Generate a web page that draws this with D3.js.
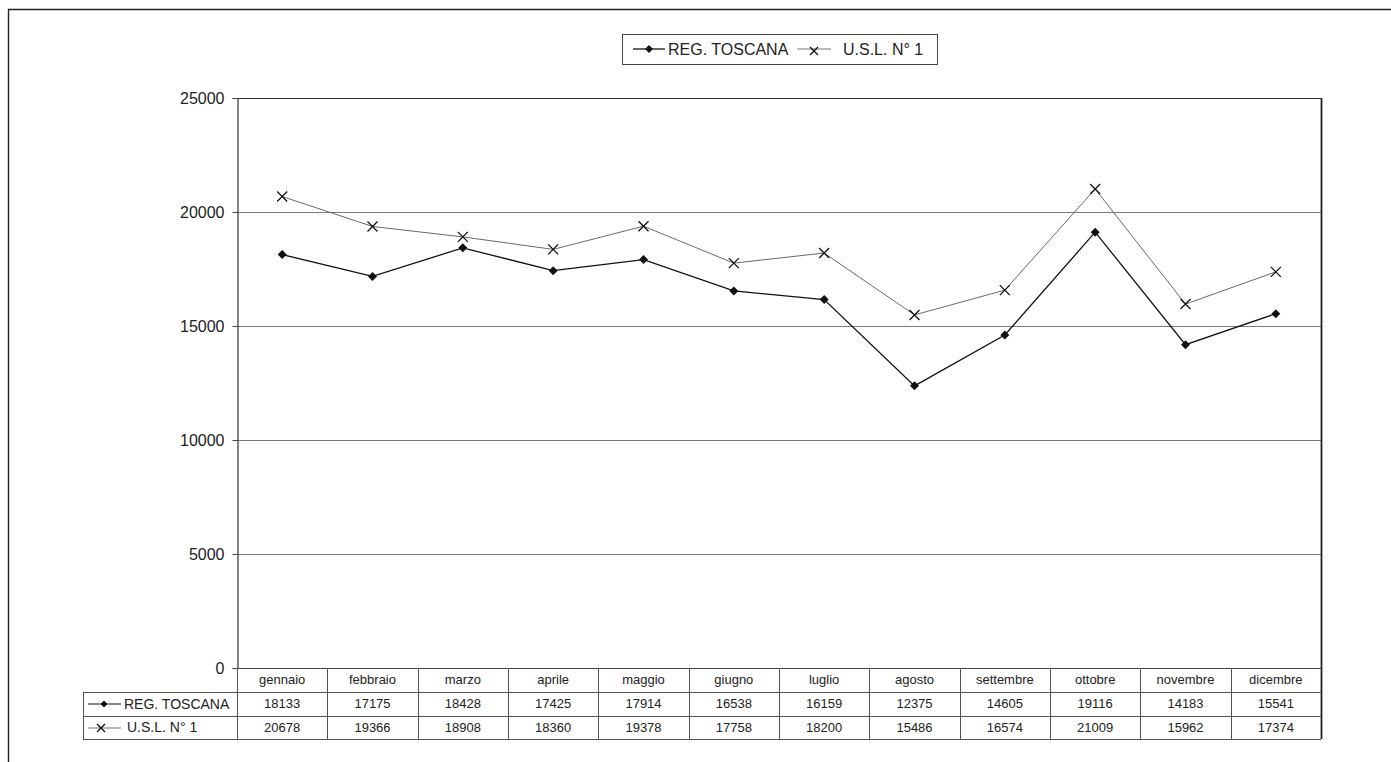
<!DOCTYPE html>
<html>
<head>
<meta charset="utf-8">
<script src="https://cdn.jsdelivr.net/npm/d3@7/dist/d3.min.js"></script>
<style>
  html, body { margin: 0; padding: 0; background: #fff; }
  svg { display: block; font-family: "Liberation Sans", Arial, sans-serif; }
</style>
</head>
<body>
<svg id="chart" width="1391" height="762"></svg>
<script>
// Monthly values for the region and the local health unit
const months = ["gennaio", "febbraio", "marzo", "aprile", "maggio", "giugno",
                "luglio", "agosto", "settembre", "ottobre", "novembre", "dicembre"];
const regToscana = [18133, 17175, 18428, 17425, 17914, 16538, 16159, 12375, 14605, 19116, 14183, 15541];
const uslN1 = [20678, 19366, 18908, 18360, 19378, 17758, 18200, 15486, 16574, 21009, 15962, 17374];
const yTicks = [0, 5000, 10000, 15000, 20000, 25000];
const seriesNames = ["REG. TOSCANA", "U.S.L. N\u00b0 1"];

(function () {
const svg = d3.select("#chart");

// plot frame
const plotLeft = 237, plotRight = 1321, plotTop = 98, plotZero = 668;
const x = d3.scaleBand().domain(months).range([plotLeft, plotRight]);
const y = d3.scaleLinear().domain([0, 25000]).range([plotZero, plotTop]);

// outer page frame
svg.append("line").attr("x1", 8).attr("x2", 1391).attr("y1", 9.5).attr("y2", 9.5)
  .attr("stroke", "#222").attr("stroke-width", 1.6);
svg.append("line").attr("x1", 8.5).attr("x2", 8.5).attr("y1", 9).attr("y2", 762)
  .attr("stroke", "#222").attr("stroke-width", 1.4);

// gridlines
svg.append("g").selectAll("line").data(yTicks.filter(d => d > 0 && d < 25000)).join("line")
  .attr("x1", plotLeft).attr("x2", plotRight)
  .attr("y1", d => Math.round(y(d)) + 0.5).attr("y2", d => Math.round(y(d)) + 0.5)
  .attr("stroke", "#7a7a7a").attr("stroke-width", 1);

// plot border: top and right
svg.append("line").attr("x1", plotLeft).attr("x2", plotRight).attr("y1", y(25000) + 0.5).attr("y2", y(25000) + 0.5)
  .attr("stroke", "#333").attr("stroke-width", 1.2);
svg.append("line").attr("x1", plotRight + 0.5).attr("x2", plotRight + 0.5).attr("y1", plotTop).attr("y2", 739)
  .attr("stroke", "#222").attr("stroke-width", 1.8);

// y axis
const yAxis = d3.axisLeft(y).tickValues(yTicks).tickSize(5).tickPadding(8).tickFormat(d3.format("d"));
const ya = svg.append("g").attr("transform", `translate(${plotLeft + 0.5},0)`).call(yAxis);
ya.select(".domain").attr("stroke", "#333").attr("stroke-width", 1.2);
ya.selectAll(".tick line").attr("stroke", "#444");
ya.selectAll(".tick text").attr("font-size", 16).attr("fill", "#222")
  .attr("font-family", "Liberation Sans, Arial, sans-serif");

// data table below the plot
const rowY = [668, 692, 716, 739];
const labelLeft = 83;
const tg = svg.append("g").attr("stroke", "#555").attr("stroke-width", 1);
// horizontal rules
tg.append("line").attr("x1", plotLeft).attr("x2", plotRight).attr("y1", rowY[0] + 0.5).attr("y2", rowY[0] + 0.5).attr("stroke", "#444");
[1, 2, 3].forEach(i => {
  tg.append("line").attr("x1", labelLeft).attr("x2", plotRight).attr("y1", rowY[i] + 0.5).attr("y2", rowY[i] + 0.5);
});
// vertical rules
tg.selectAll("line.col").data(months).join("line").attr("class", "col")
  .attr("x1", d => Math.round(x(d)) + 0.5).attr("x2", d => Math.round(x(d)) + 0.5)
  .attr("y1", rowY[0]).attr("y2", rowY[3]);
tg.append("line").attr("x1", labelLeft + 0.5).attr("x2", labelLeft + 0.5).attr("y1", rowY[1]).attr("y2", rowY[3]);

// month headers
svg.append("g").selectAll("text").data(months).join("text")
  .attr("x", d => x(d) + x.bandwidth() / 2).attr("y", rowY[0] + 16)
  .attr("text-anchor", "middle").attr("font-size", 13).attr("fill", "#222").text(d => d);

// value rows
[regToscana, uslN1].forEach((vals, r) => {
  svg.append("g").selectAll("text").data(vals).join("text")
    .attr("x", (d, i) => x(months[i]) + x.bandwidth() / 2).attr("y", rowY[r + 1] + 16)
    .attr("text-anchor", "middle").attr("font-size", 13).attr("fill", "#222").text(d => d);
});

// marker helpers
function diamond(g, cx, cy, s) {
  g.append("path").attr("d", `M${cx},${cy - s}L${cx + s},${cy}L${cx},${cy + s}L${cx - s},${cy}Z`)
    .attr("fill", "#111").attr("stroke", "none");
}
function cross(g, cx, cy, s) {
  g.append("path").attr("d", `M${cx - s},${cy - s}L${cx + s},${cy + s}M${cx - s},${cy + s}L${cx + s},${cy - s}`)
    .attr("stroke", "#111").attr("stroke-width", 1.3).attr("fill", "none");
}

// row label keys
const keyG = svg.append("g");
keyG.append("line").attr("x1", 88).attr("x2", 121).attr("y1", rowY[1] + 12).attr("y2", rowY[1] + 12)
  .attr("stroke", "#111").attr("stroke-width", 1.2);
diamond(keyG, 104, rowY[1] + 12, 3.5);
keyG.append("text").attr("x", 124).attr("y", rowY[2] - 7).attr("font-size", 14).attr("fill", "#222").text(seriesNames[0]);
keyG.append("line").attr("x1", 88).attr("x2", 121).attr("y1", rowY[2] + 12).attr("y2", rowY[2] + 12)
  .attr("stroke", "#777").attr("stroke-width", 1);
cross(keyG, 101, rowY[2] + 12, 4);
keyG.append("text").attr("x", 127).attr("y", rowY[3] - 7).attr("font-size", 14).attr("fill", "#222").text(seriesNames[1]);

// series lines
const line = d3.line().x((d, i) => x(months[i]) + x.bandwidth() / 2).y(d => y(d));
svg.append("path").datum(uslN1).attr("d", line).attr("fill", "none")
  .attr("stroke", "#6a6a6a").attr("stroke-width", 1);
svg.append("path").datum(regToscana).attr("d", line).attr("fill", "none")
  .attr("stroke", "#111").attr("stroke-width", 1.3);

const mg = svg.append("g");
uslN1.forEach((v, i) => cross(mg, x(months[i]) + x.bandwidth() / 2, y(v), 5));
regToscana.forEach((v, i) => diamond(mg, x(months[i]) + x.bandwidth() / 2, y(v), 4.5));

// legend
const lg = svg.append("g");
lg.append("rect").attr("x", 622.5).attr("y", 34.5).attr("width", 315).attr("height", 30)
  .attr("fill", "#fff").attr("stroke", "#444").attr("stroke-width", 1);
lg.append("line").attr("x1", 633).attr("x2", 665).attr("y1", 49).attr("y2", 49).attr("stroke", "#111").attr("stroke-width", 1.3);
diamond(lg, 649, 49, 4);
lg.append("text").attr("x", 668).attr("y", 55).attr("font-size", 16).attr("fill", "#222").text(seriesNames[0]);
lg.append("line").attr("x1", 797).attr("x2", 831).attr("y1", 49).attr("y2", 49).attr("stroke", "#777").attr("stroke-width", 1);
cross(lg, 814, 51, 4);
lg.append("text").attr("x", 843).attr("y", 55).attr("font-size", 16).attr("fill", "#222").text(seriesNames[1]);
})();
</script>
</body>
</html>
